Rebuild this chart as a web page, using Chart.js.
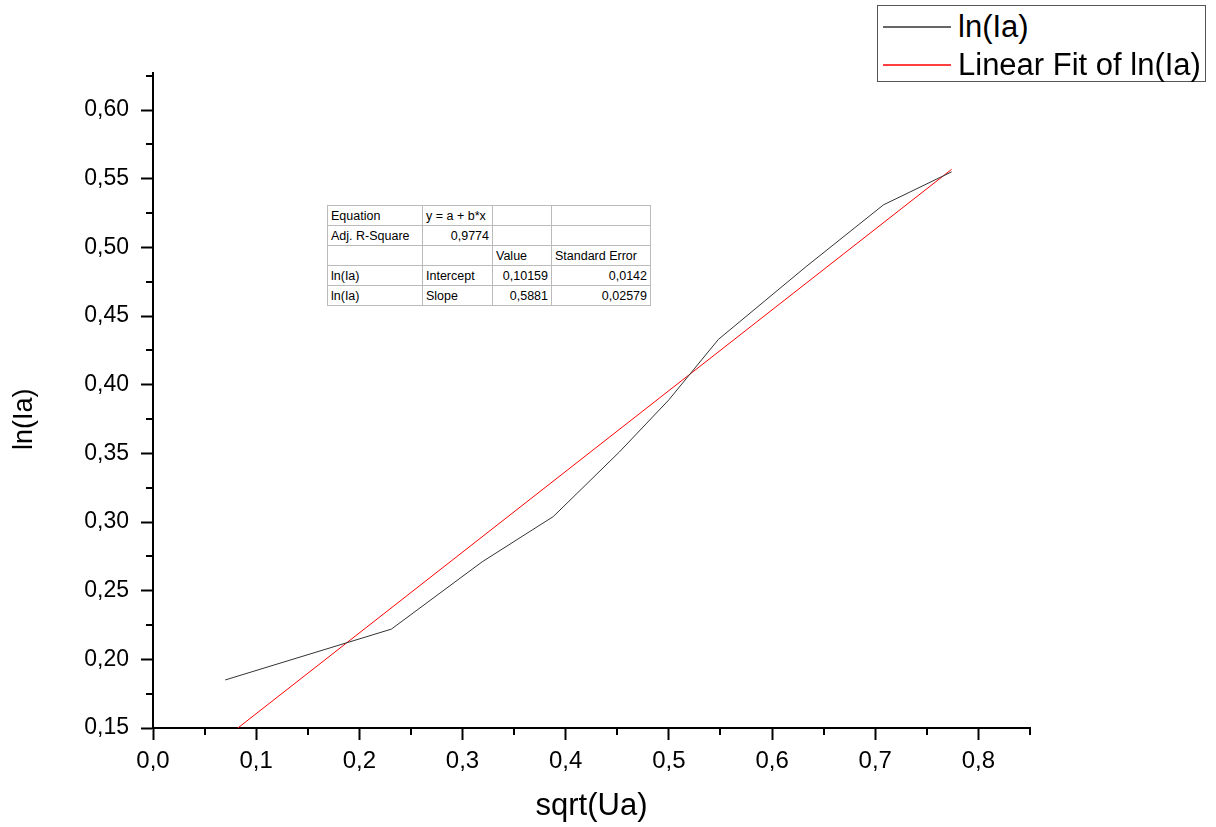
<!DOCTYPE html>
<html>
<head>
<meta charset="utf-8">
<script src="https://cdn.jsdelivr.net/npm/chart.js@4/dist/chart.umd.min.js"></script>
<style>
  body { margin: 0; background: #fff; font-family: 'Liberation Sans', Arial, sans-serif; }
  #wrap { position: relative; width: 1216px; height: 827px; }
  #legend { position: absolute; left: 877px; top: 5px; width: 327px; height: 75px; border: 1px solid #555; background: #fff; }
  #legend .row { position: absolute; left: 0; height: 36px; font-size: 31px; line-height: 36px; white-space: nowrap; }
  #legend svg { position: absolute; left: 5px; top: 17px; }
  #legend .txt { position: absolute; left: 80px; top: 0; }
  #fitTable { position: absolute; left: 327px; top: 205px; border-collapse: collapse; font-size: 12.5px; background: #fff; border: 1px solid #666; }
  #fitTable td { border: 1px solid #bbb; height: 19px; padding: 0 3px; white-space: nowrap; }
  #fitTable td.r { text-align: right; }
</style>
</head>
<body>
<div id="wrap">
  <canvas id="chart" width="1216" height="827"></canvas>
  <div id="legend"></div>
  <table id="fitTable"></table>
</div>
<script>
// measured data, ln(Ia) vs sqrt(Ua)
const sqrtUa = [0.070, 0.231, 0.319, 0.388, 0.452, 0.500, 0.548, 0.633, 0.708, 0.774];
const lnIa = [0.185, 0.222, 0.271, 0.304, 0.351, 0.389, 0.433, 0.486, 0.531, 0.555];

// linear fit line, end points
const fitX = [0.070, 0.774];
const fitY = [0.1428, 0.5568];

const seriesNames = ['ln(Ia)', 'Linear Fit of ln(Ia)'];
const seriesColors = ['#333333', '#ff0000'];

// fit result table
const tableRows = [
    ['Equation', 'y = a + b*x', '', ''],
    ['Adj. R-Square', '0,9774', '', ''],
    ['', '', 'Value', 'Standard Error'],
    ['ln(Ia)', 'Intercept', '0,10159', '0,0142'],
    ['ln(Ia)', 'Slope', '0,5881', '0,02579']
];

const xMin = 0, xMax = 0.85, xStep = 0.1;
const yMin = 0.15, yMax = 0.627, yStep = 0.05;

function toPoints(xs, ys) {
    return xs.map((x, i) => ({ x: x, y: ys[i] }));
}

// short minor ticks halfway between the major ones
const minorTicks = {
    id: 'minorTicks',
    afterDraw(chart) {
        const ctx = chart.ctx;
        const xs = chart.scales.x, ys = chart.scales.y;
        const area = chart.chartArea;
        ctx.save();
        ctx.strokeStyle = '#000';
        ctx.lineWidth = 2;
        ctx.beginPath();
        for (let v = xMin + xStep / 2; v <= xMax + 1e-9; v += xStep) {
            const px = Math.round(xs.getPixelForValue(v));
            ctx.moveTo(px, area.bottom);
            ctx.lineTo(px, area.bottom + 7);
        }
        for (let v = yMin + yStep / 2; v <= yMax + 1e-9; v += yStep) {
            const py = Math.round(ys.getPixelForValue(v));
            ctx.moveTo(area.left, py);
            ctx.lineTo(area.left - 7, py);
        }
        ctx.stroke();
        ctx.restore();
    }
};

const comma = (v, d) => v.toFixed(d).replace('.', ',');

new Chart(document.getElementById('chart'), {
    type: 'scatter',
    data: {
        datasets: [{
            label: seriesNames[0],
            data: toPoints(sqrtUa, lnIa),
            showLine: true,
            borderColor: seriesColors[0],
            borderWidth: 1,
            pointRadius: 0
        }, {
            label: seriesNames[1],
            data: toPoints(fitX, fitY),
            showLine: true,
            borderColor: seriesColors[1],
            borderWidth: 1,
            pointRadius: 0
        }]
    },
    options: {
        responsive: false,
        animation: false,
        devicePixelRatio: 1,
        layout: { padding: { top: 73, right: 186, bottom: 0, left: 0 } },
        plugins: { legend: { display: false }, tooltip: { enabled: false } },
        scales: {
            x: {
                type: 'linear',
                min: xMin,
                max: xMax,
                afterFit: s => { s.height = 99; },
                border: { display: true, color: '#000', width: 2 },
                grid: { drawOnChartArea: false, drawTicks: true, tickLength: 12, tickColor: '#000', tickWidth: 2 },
                ticks: {
                    stepSize: xStep,
                    includeBounds: false,
                    maxRotation: 0,
                    padding: 7,
                    color: '#000',
                    font: { family: "'Liberation Sans', Arial", size: 24 },
                    callback: v => comma(v, 1)
                },
                title: {
                    display: true,
                    text: 'sqrt(Ua)',
                    color: '#000',
                    font: { family: "'Liberation Sans', Arial", size: 31 },
                    padding: { top: 0, bottom: 2 }
                }
            },
            y: {
                type: 'linear',
                min: yMin,
                max: yMax,
                afterFit: s => { s.width = 153; },
                border: { display: true, color: '#000', width: 2 },
                grid: { drawOnChartArea: false, drawTicks: true, tickLength: 12, tickColor: '#000', tickWidth: 2 },
                ticks: {
                    stepSize: yStep,
                    includeBounds: false,
                    padding: 12,
                    color: '#000',
                    font: { family: "'Liberation Sans', Arial", size: 23 },
                    callback: v => comma(v, 2)
                },
                title: {
                    display: true,
                    // trailing spaces nudge the rotated title down a little
                    text: 'ln(Ia)     ',
                    color: '#000',
                    font: { family: "'Liberation Sans', Arial", size: 27 },
                    padding: { top: 8, bottom: 0 }
                }
            }
        }
    },
    plugins: [minorTicks]
});

// legend box (top right)
const legend = document.getElementById('legend');
seriesNames.forEach((name, i) => {
    const row = document.createElement('div');
    row.className = 'row';
    row.style.top = (i === 0 ? 3 : 41) + 'px';
    row.innerHTML = '<svg width="68" height="3"><line x1="0" y1="1" x2="68" y2="1" stroke="' +
        seriesColors[i] + '" stroke-width="1.3"/></svg><span class="txt">' + name + '</span>';
    legend.appendChild(row);
});

// fit parameter table
const colWidths = [95, 70, 59, 99];
const table = document.getElementById('fitTable');
tableRows.forEach((r, ri) => {
    const tr = document.createElement('tr');
    r.forEach((cell, ci) => {
        const td = document.createElement('td');
        td.textContent = cell;
        td.style.width = (colWidths[ci] - 7) + 'px';
        if ((ri === 1 && ci === 1) || (ri >= 3 && ci >= 2)) td.className = 'r';
        tr.appendChild(td);
    });
    table.appendChild(tr);
});
</script>
</body>
</html>
